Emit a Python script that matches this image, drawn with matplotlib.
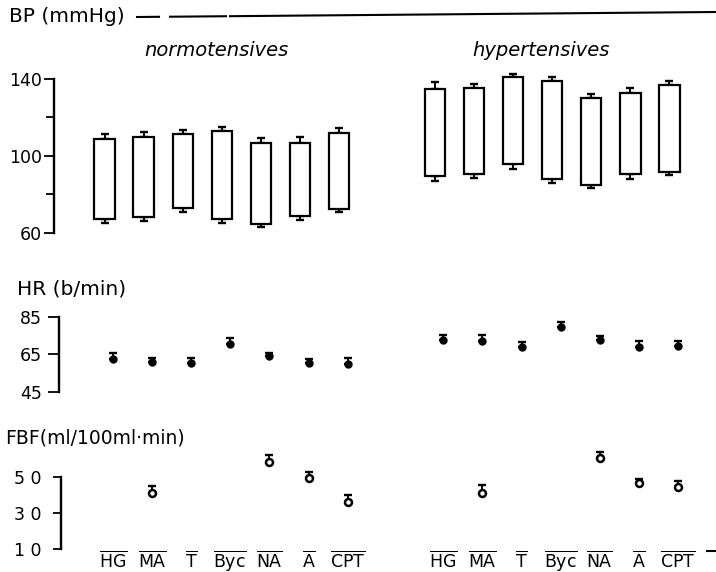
"""BP / HR / FBF responses to stress tests in normo- and hypertensives."""

import matplotlib
matplotlib.use("Agg")
import matplotlib.pyplot as plt
import matplotlib.transforms as mtransforms
import numpy as np
from matplotlib.lines import Line2D

W, H = 716, 572

tests = ["HG", "MA", "T", "Byc", "NA", "A", "CPT"]

# blood pressure (mmHg): systolic / diastolic means with SEM
sys_norm = [108.8, 109.7, 111.4, 113.0, 106.9, 106.9, 111.8]
sys_norm_err = [2.6, 2.6, 2.1, 2.2, 2.3, 2.8, 2.9]
dia_norm = [67.3, 68.2, 72.8, 67.3, 64.7, 68.8, 72.3]
dia_norm_err = [2.1, 2.1, 1.9, 1.9, 1.7, 2.0, 1.5]

sys_hyp = [134.8, 135.3, 140.9, 139.1, 130.0, 132.7, 136.9]
sys_hyp_err = [3.5, 1.9, 1.5, 1.9, 2.2, 2.5, 1.9]
dia_hyp = [89.8, 90.6, 95.7, 88.0, 84.9, 90.6, 91.9]
dia_hyp_err = [2.8, 2.2, 2.5, 2.0, 1.4, 2.7, 1.8]

# heart rate (b/min)
hr_norm = [62.3, 60.9, 60.2, 70.3, 64.1, 60.2, 59.8]
hr_norm_err = [3.1, 2.3, 2.7, 3.1, 1.8, 2.1, 3.4]
hr_hyp = [72.5, 72.3, 68.6, 79.4, 72.5, 69.1, 69.4]
hr_hyp_err = [2.7, 2.7, 3.1, 2.8, 2.0, 2.9, 2.7]

# forearm blood flow (ml/100ml.min), not measured for HG, T, Byc
fbf_norm = [np.nan, 4.14, np.nan, np.nan, 5.87, 4.94, 3.64]
fbf_norm_err = [np.nan, 0.38, np.nan, np.nan, 0.37, 0.37, 0.37]
fbf_hyp = [np.nan, 4.11, np.nan, np.nan, 6.06, 4.67, 4.48]
fbf_hyp_err = [np.nan, 0.46, np.nan, np.nan, 0.36, 0.22, 0.32]

fbf_ticks = [1, 3, 5]
fbf_ticklabels = ["1 0", "3 0", "5 0"]

x_norm = np.arange(len(tests))
x_hyp = x_norm + 8.45
STEP = 39.1  # px per category


def px_axes(fig, left, top, bottom, x0_px):
    ax = fig.add_axes([left / W, 1 - bottom / H, (W - left) / W, (bottom - top) / H])
    ax.set_xlim((left - x0_px) / STEP, (W - x0_px) / STEP)
    for s in ("top", "right", "bottom"):
        ax.spines[s].set_visible(False)
    ax.spines["left"].set_linewidth(1.7)
    ax.patch.set_alpha(0)
    ax.tick_params(axis="y", direction="out", width=1.3, labelsize=12.5)
    ax.set_xticks([])
    return ax


def one_sided(ax, x, y, err, up=True, **kw):
    zeros = np.zeros(len(x))
    yerr = [zeros, err] if up else [err, zeros]
    ax.errorbar(x, y, yerr=yerr, fmt="none", ecolor="black", elinewidth=1.4,
                capsize=2.6, capthick=1.7, clip_on=False, **kw)


fig = plt.figure(figsize=(W / 100, H / 100), dpi=100)

# ---- BP ----
ax_bp = px_axes(fig, 54, 79, 233, 104.5)
ax_bp.set_ylim(60, 140)
ax_bp.set_yticks([60, 100, 140])
ax_bp.set_yticks([80, 120], minor=True)
ax_bp.tick_params(axis="y", which="major", length=7.5, pad=1)
ax_bp.tick_params(axis="y", which="minor", length=6, width=1.3)
for xs, s, se, d, de in [(x_norm, sys_norm, sys_norm_err, dia_norm, dia_norm_err),
                         (x_hyp, sys_hyp, sys_hyp_err, dia_hyp, dia_hyp_err)]:
    s, d = np.array(s), np.array(d)
    ax_bp.bar(xs, s - d, bottom=d, width=0.52, color="white", edgecolor="black",
              linewidth=1.6, zorder=3, clip_on=False)
    one_sided(ax_bp, xs, s, se, up=True, zorder=2)
    one_sided(ax_bp, xs, d, de, up=False, zorder=2)

# ---- HR ----
ax_hr = px_axes(fig, 59, 316.7, 391.7, 113)
ax_hr.set_ylim(45, 85)
ax_hr.set_yticks([45, 65, 85])
ax_hr.tick_params(axis="y", length=8, pad=4)
for xs, v, e in [(x_norm, hr_norm, hr_norm_err), (x_hyp, hr_hyp, hr_hyp_err)]:
    one_sided(ax_hr, xs, v, e, zorder=2)
    ax_hr.plot(xs, v, "o", ms=5, color="black", zorder=3, clip_on=False)

# ---- FBF ----
ax_fbf = px_axes(fig, 61, 477.3, 549.3, 113)
ax_fbf.set_ylim(1, 5)
ax_fbf.set_yticks(fbf_ticks, fbf_ticklabels)
ax_fbf.tick_params(axis="y", length=6, pad=8)
for xs, v, e in [(x_norm, fbf_norm, fbf_norm_err), (x_hyp, fbf_hyp, fbf_hyp_err)]:
    one_sided(ax_fbf, xs, v, e, zorder=2)
    ax_fbf.plot(xs, v, "o", ms=5, mfc="white", mec="black", mew=1.8,
                zorder=3, clip_on=False)

# category labels with overline, sitting on a common baseline
trans = mtransforms.blended_transform_factory(ax_fbf.transData, ax_fbf.transAxes)
for xs in (x_norm, x_hyp):
    for x, t in zip(xs, tests):
        ax_fbf.text(x, (549.3 - 567.5) / 72, r"$\overline{\mathrm{%s}}$" % t,
                    transform=trans, ha="center", va="baseline", fontsize=12.5)

# ---- texts and header rule ----
fig.text(9 / W, 1 - 16 / H, "BP (mmHg)", fontsize=14.5, va="center", ha="left")
fig.text(17 / W, 1 - 289 / H, "HR (b/min)", fontsize=14.5, va="center", ha="left")
fig.text(5 / W, 1 - 438 / H, "FBF(ml/100ml\u00b7min)", fontsize=13.5,
         va="center", ha="left")
fig.text(216 / W, 1 - 50 / H, "normotensives", fontsize=14, style="italic",
         ha="center", va="center")
fig.text(541 / W, 1 - 50 / H, "hypertensives", fontsize=14, style="italic",
         ha="center", va="center")

for x0, x1 in [(137, 159), (170, 226), (230, 716)]:
    y0 = 17 - 5 * (x0 - 137) / (716 - 137)
    y1 = 17 - 5 * (x1 - 137) / (716 - 137)
    fig.add_artist(Line2D([x0 / W, x1 / W], [1 - y0 / H, 1 - y1 / H],
                          color="black", lw=1.5))
fig.add_artist(Line2D([707 / W, 716 / W], [1 - 551 / H, 1 - 551 / H],
                      color="black", lw=1.5))

fig.savefig("out.png", dpi=100)
